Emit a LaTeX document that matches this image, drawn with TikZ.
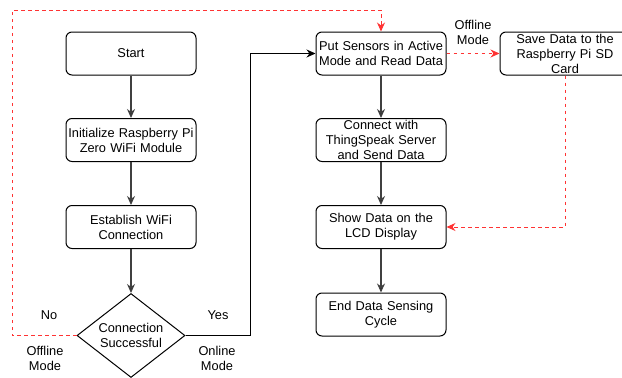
\documentclass[tikz,border=0pt]{standalone}
\usepackage{fontspec}
\setmainfont{Liberation Sans}
\usetikzlibrary{shapes.geometric,arrows.meta}
\definecolor{redline}{HTML}{FF3333}
\begin{document}
\begin{tikzpicture}[x=1pt,y=-1pt,
  every node/.style={font=\fontsize{12.8}{15}\selectfont, align=center},
  box/.style={draw, rounded corners=6pt, minimum width=130pt, minimum height=43pt, inner sep=1pt, line width=1pt, text width=128pt},
  dec/.style={draw, diamond, aspect=1.286, minimum width=108pt, minimum height=84pt, inner sep=0pt, line width=1pt},
  flow/.style={draw=black!75, line width=1.3pt, -{Stealth[length=9pt,width=8pt,fill=black]}},
  blk/.style={draw=black, line width=1pt, -{Stealth[length=9pt,width=8pt]}},
  off/.style={draw=redline, line width=1pt, dash pattern=on 3.5pt off 3.5pt, -{Stealth[length=9pt,width=8pt]}},
  lbl/.style={inner sep=0pt}
]
\useasboundingbox (0,0) rectangle (622,378);
\node[box] (start) at (131,53.5) {Start};
\node[box] (init) at (131,140) {Initialize Raspberry Pi\\Zero WiFi Module};
\node[box] (wifi) at (131,227) {Establish WiFi\\Connection};
\node[dec] (dec) at (131,335.5) {Connection\\Successful};
\node[box] (sens) at (381,53.5) {Put Sensors in Active\\Mode and Read Data};
\node[box] (thing) at (381,140) {Connect with\\ThingSpeak Server\\and Send Data};
\node[box] (lcd) at (381,227) {Show Data on the\\LCD Display};
\node[box] (end) at (381,314.5) {End Data Sensing\\Cycle};
\node[box] (sd) at (565,53.5) {Save Data to the\\Raspberry Pi SD\\Card};

\coordinate (r1) at (12,335.5);
\coordinate (r2) at (12,10);
\coordinate (r3) at (381,10);
\coordinate (b1) at (250,335.5);
\coordinate (b2) at (250,53.5);
\coordinate (s1) at (565,227);

\draw[flow] (start) -- (init);
\draw[flow] (init) -- (wifi);
\draw[flow] (wifi) -- (dec);
\draw[flow] (sens) -- (thing);
\draw[flow] (thing) -- (lcd);
\draw[flow] (lcd) -- (end);
\draw[blk] (dec.east) -- (b1) -- (b2) -- (sens.west);
\draw[off] (dec.west) -- (r1) -- (r2) -- (r3) -- (sens.north);
\draw[off] (sens.east) -- (sd.west);
\draw[off] (sd.south) -- (s1) -- (lcd.east);

\node[lbl] (no) at (49,315) {No};
\node[lbl] (offl) at (45,358.5) {Offline\\Mode};
\node[lbl] (yes) at (218,315) {Yes};
\node[lbl] (onl) at (217,358.5) {Online\\Mode};
\node[lbl] (offr) at (473,32) {Offline\\Mode};
\end{tikzpicture}
\end{document}
